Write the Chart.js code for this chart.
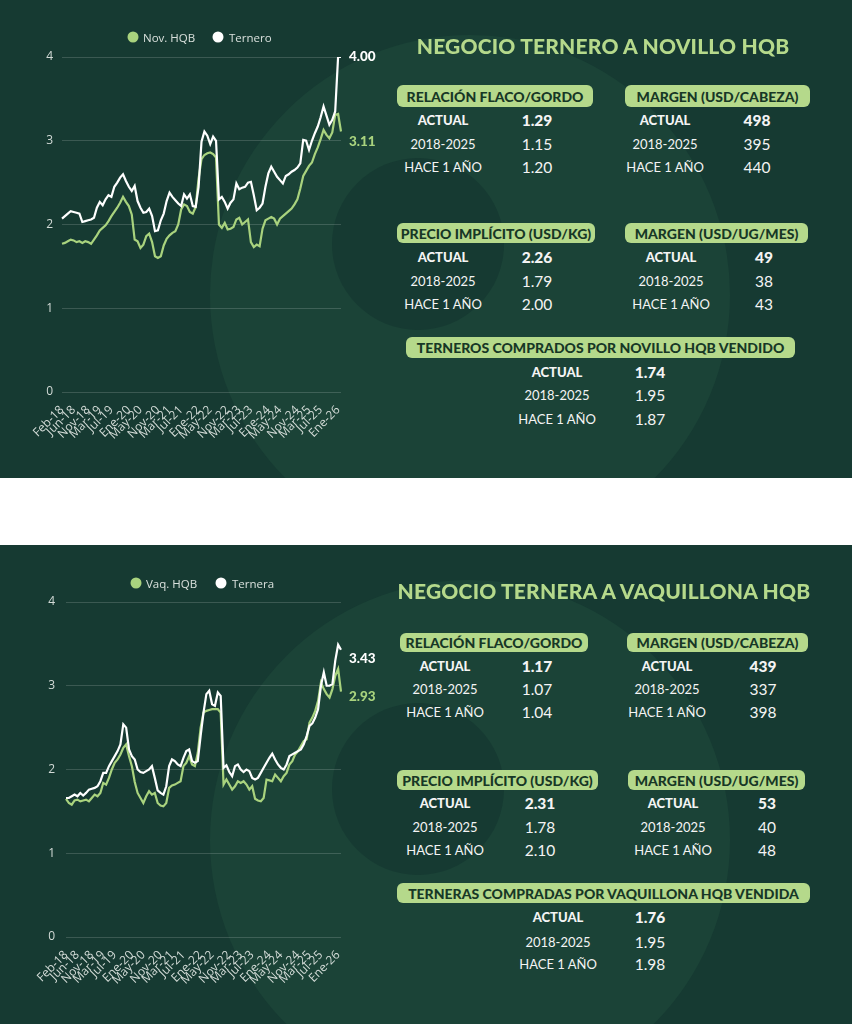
<!DOCTYPE html>
<html><head><meta charset="utf-8">
<script src="https://cdn.jsdelivr.net/npm/chart.js@4.4.1/dist/chart.umd.min.js"></script>
<style>
body{margin:0;width:852px;height:1024px;background:#fff;position:relative;overflow:hidden;font-family:Lato,'Open Sans',sans-serif;}
.panel{position:absolute;left:0;width:852px;background:#163a32;overflow:hidden;}
.wm1{position:absolute;border-radius:50%;background:#1b4337;}
.wm2{position:absolute;border-radius:50%;background:#163a32;}
.t{position:absolute;transform:translate(-50%,-50%);white-space:nowrap;color:#f4f4f4;}
.title{font-weight:900;font-size:21px;color:#b5d98b;letter-spacing:0.2px;}
.pill{position:absolute;background:#b5d98b;border-radius:6px;color:#173726;font-weight:900;font-size:14px;display:flex;align-items:center;justify-content:center;white-space:nowrap;}
.lb{font-size:13px;}
.lb.b{font-weight:900;}
.vl{font-size:15.5px;}
.vl.b{font-weight:900;}
.leg{position:absolute;font-family:'Open Sans',sans-serif;font-size:11.5px;color:#d9e0dc;transform:translateY(-50%);white-space:nowrap;}
.dot{position:absolute;width:11px;height:11px;border-radius:50%;transform:translate(-50%,-50%);}
canvas{position:absolute;left:0;top:0;}
</style></head>
<body>
<div class="panel" id="p1" style="top:0;height:478px;"></div>
<div class="panel" id="p2" style="top:545px;height:479px;"></div>
<script>
// ---------- DATA ----------
const categories = [
 'Feb-18','Mar-18','Abr-18','May-18','Jun-18','Jul-18','Ago-18','Sep-18','Oct-18','Nov-18','Dic-18',
 'Ene-19','Feb-19','Mar-19','Abr-19','May-19','Jun-19','Jul-19','Ago-19','Sep-19','Oct-19','Nov-19','Dic-19',
 'Ene-20','Feb-20','Mar-20','Abr-20','May-20','Jun-20','Jul-20','Ago-20','Sep-20','Oct-20','Nov-20','Dic-20',
 'Ene-21','Feb-21','Mar-21','Abr-21','May-21','Jun-21','Jul-21','Ago-21','Sep-21','Oct-21','Nov-21','Dic-21',
 'Ene-22','Feb-22','Mar-22','Abr-22','May-22','Jun-22','Jul-22','Ago-22','Sep-22','Oct-22','Nov-22','Dic-22',
 'Ene-23','Feb-23','Mar-23','Abr-23','May-23','Jun-23','Jul-23','Ago-23','Sep-23','Oct-23','Nov-23','Dic-23',
 'Ene-24','Feb-24','Mar-24','Abr-24','May-24','Jun-24','Jul-24','Ago-24','Sep-24','Oct-24','Nov-24','Dic-24',
 'Ene-25','Feb-25','Mar-25','Abr-25','May-25','Jun-25','Jul-25','Ago-25','Sep-25','Oct-25','Nov-25','Dic-25',
 'Ene-26','Feb-26'
];
const shownTicks = ['Feb-18','Jun-18','Nov-18','Mar-19','Jul-19','Ene-20','May-20','Nov-20','Mar-21','Jul-21',
 'Ene-22','May-22','Nov-22','Mar-23','Jul-23','Ene-24','May-24','Nov-24','Mar-25','Jul-25','Ene-26'];
const yTicks = [0,1,2,3,4];

const novilloHQB = [
 1.77,1.78,1.80,1.82,1.81,1.79,1.80,1.78,1.80,1.79,
 1.77,1.82,1.87,1.93,1.96,1.99,2.04,2.10,2.15,2.20,
 2.26,2.33,2.27,2.22,2.12,1.82,1.80,1.72,1.76,1.86,
 1.89,1.79,1.62,1.60,1.62,1.75,1.83,1.87,1.90,1.92,
 2.00,2.18,2.24,2.22,2.15,2.13,2.21,2.55,2.78,2.83,
 2.85,2.86,2.84,2.80,2.00,1.96,2.02,1.94,1.95,1.97,
 2.06,2.08,2.00,2.03,2.06,1.79,1.73,1.76,1.74,1.95,
 2.05,2.07,2.09,2.07,2.00,2.07,2.10,2.13,2.16,2.19,
 2.24,2.30,2.43,2.58,2.64,2.70,2.74,2.84,2.92,3.02,
 3.13,3.07,3.03,3.10,3.31,3.32,3.11
];
const ternero = [
 2.07,2.10,2.13,2.16,2.15,2.14,2.13,2.03,2.04,2.05,
 2.06,2.08,2.20,2.27,2.23,2.30,2.35,2.33,2.45,2.50,
 2.56,2.60,2.52,2.45,2.40,2.46,2.28,2.20,2.14,2.15,
 2.19,2.10,1.92,1.93,2.05,2.13,2.28,2.38,2.33,2.29,
 2.25,2.22,2.36,2.31,2.36,2.22,2.21,2.45,2.99,3.11,
 3.06,2.96,3.05,3.00,2.30,2.33,2.27,2.19,2.26,2.30,
 2.49,2.42,2.44,2.45,2.50,2.51,2.35,2.17,2.20,2.25,
 2.45,2.61,2.69,2.63,2.57,2.53,2.49,2.58,2.60,2.63,
 2.65,2.68,2.73,3.01,3.00,2.89,3.00,3.09,3.17,3.28,
 3.41,3.30,3.19,3.25,3.35,4.00,4.00
];
const vaqHQB = [
 1.65,1.60,1.58,1.63,1.64,1.62,1.63,1.64,1.62,1.66,
 1.70,1.68,1.72,1.84,1.82,1.90,2.00,2.08,2.12,2.18,
 2.26,2.30,2.16,2.04,1.85,1.72,1.66,1.60,1.68,1.74,
 1.70,1.72,1.60,1.57,1.56,1.60,1.78,1.81,1.82,1.84,
 1.86,2.04,2.08,2.16,2.06,2.04,2.20,2.50,2.68,2.70,
 2.71,2.72,2.72,2.72,2.68,1.82,1.88,1.82,1.76,1.80,
 1.86,1.84,1.86,1.82,1.76,1.80,1.65,1.63,1.62,1.66,
 1.88,1.87,1.86,1.94,1.90,1.86,1.92,1.96,2.06,2.10,
 2.18,2.22,2.28,2.34,2.36,2.56,2.62,2.70,2.82,3.04,
 2.96,2.90,2.86,2.96,3.12,3.20,2.93
];
const ternera = [
 1.66,1.66,1.68,1.70,1.68,1.72,1.69,1.72,1.76,1.77,
 1.78,1.80,1.86,1.96,1.96,2.04,2.10,2.16,2.22,2.30,
 2.54,2.50,2.24,2.16,2.12,2.00,1.97,1.96,1.98,2.00,
 2.04,1.90,1.75,1.72,1.70,1.80,2.04,2.12,2.10,2.06,
 2.04,2.14,2.22,2.24,2.10,2.08,2.10,2.40,2.68,2.90,
 2.94,2.78,2.76,2.92,2.88,2.02,2.05,1.97,1.92,2.04,
 2.06,2.00,1.97,2.00,1.98,1.90,1.88,1.90,1.96,2.02,
 2.08,2.14,2.19,2.12,2.06,2.02,2.00,2.06,2.16,2.18,
 2.20,2.22,2.24,2.30,2.40,2.52,2.55,2.62,2.72,3.00,
 3.16,3.00,3.00,3.02,3.30,3.49,3.43
];

// table texts
const rowLabels = ['ACTUAL','2018-2025','HACE 1 AÑO'];
const t1Relacion = ['1.29','1.15','1.20'];
const t1MargenCab = ['498','395','440'];
const t1Precio = ['2.26','1.79','2.00'];
const t1MargenMes = ['49','38','43'];
const t1Terneros = ['1.74','1.95','1.87'];
const t2Relacion = ['1.17','1.07','1.04'];
const t2MargenCab = ['439','337','398'];
const t2Precio = ['2.31','1.78','2.10'];
const t2MargenMes = ['53','40','48'];
const t2Terneras = ['1.76','1.95','1.98'];

// ---------- STYLE ----------
const GREEN = '#a9d37e';
const WHITE = '#ffffff';
const TICK = '#d3dbd7';

function el(parent, cls, text, css){
  const d=document.createElement('div'); d.className=cls; if(text!==undefined) d.textContent=text;
  Object.assign(d.style, css||{}); parent.appendChild(d); return d;
}

function buildPanel(p, cfg){
  el(p,'wm1','',{left:'210px',top:'35px',width:'520px',height:'520px'});
  el(p,'wm2','',{left:'332px',top:'158px',width:'172px',height:'172px'});
  const cv=document.createElement('canvas'); cv.width=390; cv.height=478; cv.style.width='390px'; cv.style.height='478px'; p.appendChild(cv);
  // legend
  el(p,'dot','',{left:cfg.leg[0]+'px',top:cfg.legY+'px',background:GREEN});
  el(p,'leg',cfg.names[0],{left:(cfg.leg[0]+10)+'px',top:cfg.legY+'px'});
  el(p,'dot','',{left:cfg.leg[1]+'px',top:cfg.legY+'px',background:WHITE});
  el(p,'leg',cfg.names[1],{left:(cfg.leg[1]+11)+'px',top:cfg.legY+'px'});
  el(p,'t title',cfg.title,{left:cfg.titleX+'px',top:'45px'});
  cfg.blocks.forEach(b=>{
    el(p,'pill',b.head,{left:b.px[0]+'px',top:b.py[0]+'px',width:(b.px[1]-b.px[0])+'px',height:(b.py[1]-b.py[0])+'px'});
    rowLabels.forEach((r,i)=>{
      el(p,'t lb'+(i===0?' b':''),r,{left:b.lx+'px',top:b.ry[i]+'px'});
      el(p,'t vl'+(i===0?' b':''),b.vals[i],{left:b.vx+'px',top:b.ry[i]+'px'});
    });
  });
  makeChart(cv,cfg);
}

const endLabels = {
  id:'endLabels',
  afterDatasetsDraw(chart,args,opts){
    const ctx=chart.ctx;
    opts.items.forEach(it=>{
      const meta=chart.getDatasetMeta(it.ds);
      const pt=meta.data[meta.data.length-1];
      const ds=chart.data.datasets[it.ds].data;
      ctx.save(); ctx.font='900 13.5px Lato'; ctx.fillStyle=it.color; ctx.textBaseline='middle';
      ctx.fillText(ds[ds.length-1].toFixed(2), pt.x+it.dx, pt.y+it.dy); ctx.restore();
    });
  }
};

function makeChart(cv,cfg){
  new Chart(cv,{
    type:'line',
    data:{labels:categories,datasets:[
      {label:cfg.names[0],data:cfg.green,borderColor:GREEN,borderWidth:2.2,pointRadius:0,tension:0,order:1},
      {label:cfg.names[1],data:cfg.white,borderColor:WHITE,borderWidth:2.2,pointRadius:0,tension:0,order:0}
    ]},
    options:{
      responsive:false,animation:false,devicePixelRatio:1,
      layout:{padding:{top:57,right:49,left:0,bottom:0}},
      plugins:{legend:{display:false},tooltip:{enabled:false},
        endLabels:{items:[{ds:1,color:WHITE,dx:8,dy:cfg.dyW},{ds:0,color:GREEN,dx:8,dy:cfg.dyG}]}},
      scales:{
        x:{grid:{display:false},border:{display:false},
           ticks:{autoSkip:false,minRotation:45,maxRotation:45,color:TICK,padding:3,
             font:{family:'Open Sans',size:12},
             callback:function(v){const l=this.getLabelForValue(v);return shownTicks.includes(l)?l:null;}},
           afterFit:s=>{s.height=86;}},
        y:{min:0,max:4,afterBuildTicks:s=>{s.ticks=yTicks.map(v=>({value:v}));},
           ticks:{color:TICK,padding:cfg.yPad,font:{family:'Open Sans',size:12}},
           grid:{color:'rgba(255,255,255,0.16)',drawTicks:false,lineWidth:1},border:{display:false},
           afterFit:s=>{s.width=cfg.yW;}}
      }
    },
    plugins:[endLabels]
  });
}

buildPanel(document.getElementById('p1'),{
  names:['Nov. HQB','Ternero'],green:novilloHQB,white:ternero,leg:[133,218],legY:37,
  yW:62,yPad:9,dyW:0,dyG:10,
  title:'NEGOCIO TERNERO A NOVILLO HQB',titleX:603,
  blocks:[
    {head:'RELACIÓN FLACO/GORDO',px:[397,593],py:[85,107],lx:443,vx:537,ry:[120,144,167],vals:t1Relacion},
    {head:'MARGEN (USD/CABEZA)',px:[625,810],py:[85,107],lx:665,vx:757,ry:[120,144,167],vals:t1MargenCab},
    {head:'PRECIO IMPLÍCITO (USD/KG)',px:[397,595],py:[223,243],lx:443,vx:537,ry:[257,281,304],vals:t1Precio},
    {head:'MARGEN (USD/UG/MES)',px:[625,808],py:[223,243],lx:671,vx:764,ry:[257,281,304],vals:t1MargenMes},
    {head:'TERNEROS COMPRADOS POR NOVILLO HQB VENDIDO',px:[406,795],py:[337,358],lx:557,vx:650,ry:[372,395,419],vals:t1Terneros}
  ]
});
buildPanel(document.getElementById('p2'),{
  names:['Vaq. HQB','Ternera'],green:vaqHQB,white:ternera,leg:[136,221],legY:38,
  yW:66,yPad:11,dyW:9,dyG:5,
  title:'NEGOCIO TERNERA A VAQUILLONA HQB',titleX:604,
  blocks:[
    {head:'RELACIÓN FLACO/GORDO',px:[400,588],py:[88,107],lx:445,vx:537,ry:[121,144,167],vals:t2Relacion},
    {head:'MARGEN (USD/CABEZA)',px:[627,808],py:[88,107],lx:667,vx:763,ry:[121,144,167],vals:t2MargenCab},
    {head:'PRECIO IMPLÍCITO (USD/KG)',px:[397,598],py:[225,245],lx:445,vx:540,ry:[258,282,305],vals:t2Precio},
    {head:'MARGEN (USD/UG/MES)',px:[628,805],py:[225,245],lx:673,vx:767,ry:[258,282,305],vals:t2MargenMes},
    {head:'TERNERAS COMPRADAS POR VAQUILLONA HQB VENDIDA',px:[397,810],py:[338,358],lx:558,vx:650,ry:[372,397,419],vals:t2Terneras}
  ]
});
</script>
</body></html>
